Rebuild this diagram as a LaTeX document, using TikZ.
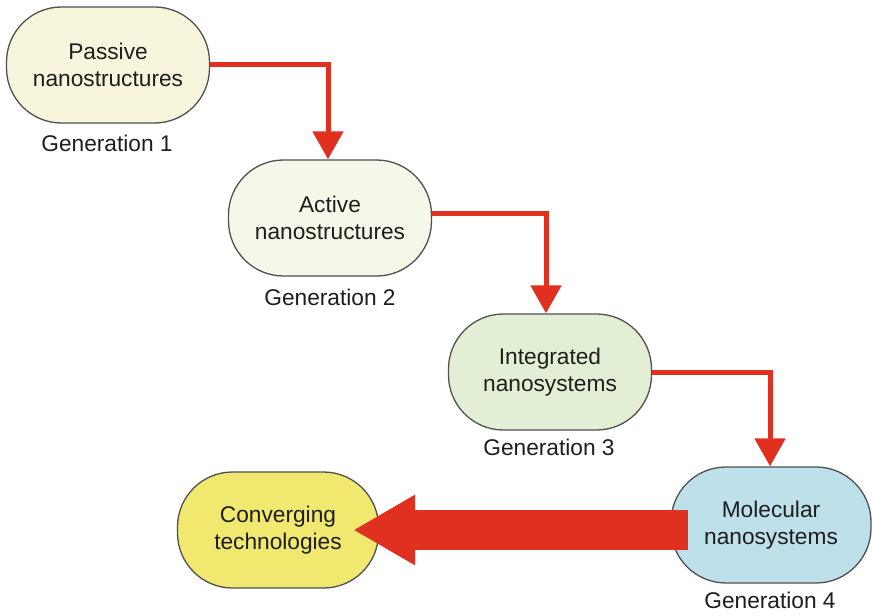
\documentclass[tikz,border=0pt]{standalone}
\usepackage{fontspec}
\setmainfont{Liberation Sans}
\usetikzlibrary{arrows.meta}

\definecolor{ink}{HTML}{1E1E1E}
\definecolor{edge}{HTML}{505050}
\definecolor{flow}{HTML}{E0301F}
\definecolor{genone}{HTML}{F7F5DC}
\definecolor{gentwo}{HTML}{F5F8E9}
\definecolor{genthree}{HTML}{E3EFD4}
\definecolor{genfour}{HTML}{BDE0EA}
\definecolor{conv}{HTML}{F0E86F}

\tikzset{
  stage/.style={draw=edge, line width=1.3pt, rounded corners=55pt,
    minimum width=203pt, minimum height=116pt, inner sep=0pt,
    align=center, text=ink, font=\fontsize{22.7}{27}\selectfont},
  genlabel/.style={text=ink, inner sep=0pt, font=\fontsize{22.7}{27}\selectfont},
  flowarrow/.style={draw=flow, line width=5pt,
    -{Triangle[length=28pt,width=30pt]}},
  bigarrow/.style={draw=flow, line width=40pt,
    -{Triangle[length=62pt,width=66pt]}}
}

\begin{document}
\begin{tikzpicture}[x=1pt,y=-1pt]
  \fill[white] (0,0) rectangle (874,615);
  \useasboundingbox (0,0) rectangle (874,615);

  % stages of the development path
  \node[stage, fill=genone]   (b1) at (108,65)  {Passive\\nanostructures};
  \node[stage, fill=gentwo]   (b2) at (330,218) {Active\\nanostructures};
  \node[stage, fill=genthree] (b3) at (550,372) {Integrated\\nanosystems};
  \node[stage, fill=genfour, minimum width=200pt] (b4) at (771,525) {Molecular\\nanosystems};
  \node[stage, fill=conv, minimum width=201pt] (b5) at (278,530) {Converging\\technologies};

  % generation captions
  \node[genlabel] (g1) at (107,143) {Generation 1};
  \node[genlabel] (g2) at (330,297) {Generation 2};
  \node[genlabel] (g3) at (549,447) {Generation 3};
  \node[genlabel] (g4) at (770,600) {Generation 4};

  % step connectors
  \draw[flowarrow] (b1.east) -| ([xshift=-2pt]b2.north);
  \draw[flowarrow] ([yshift=5pt]b2.east) -| ([xshift=-4pt]b3.north);
  \draw[flowarrow] (b3.east) -| ([xshift=-1pt]b4.north);

  % convergence arrow, kept level with the target box
  \draw[bigarrow] ([xshift=18pt,yshift=-5pt]b4.west) -- ([xshift=-26pt]b5.east);
\end{tikzpicture}
\end{document}
